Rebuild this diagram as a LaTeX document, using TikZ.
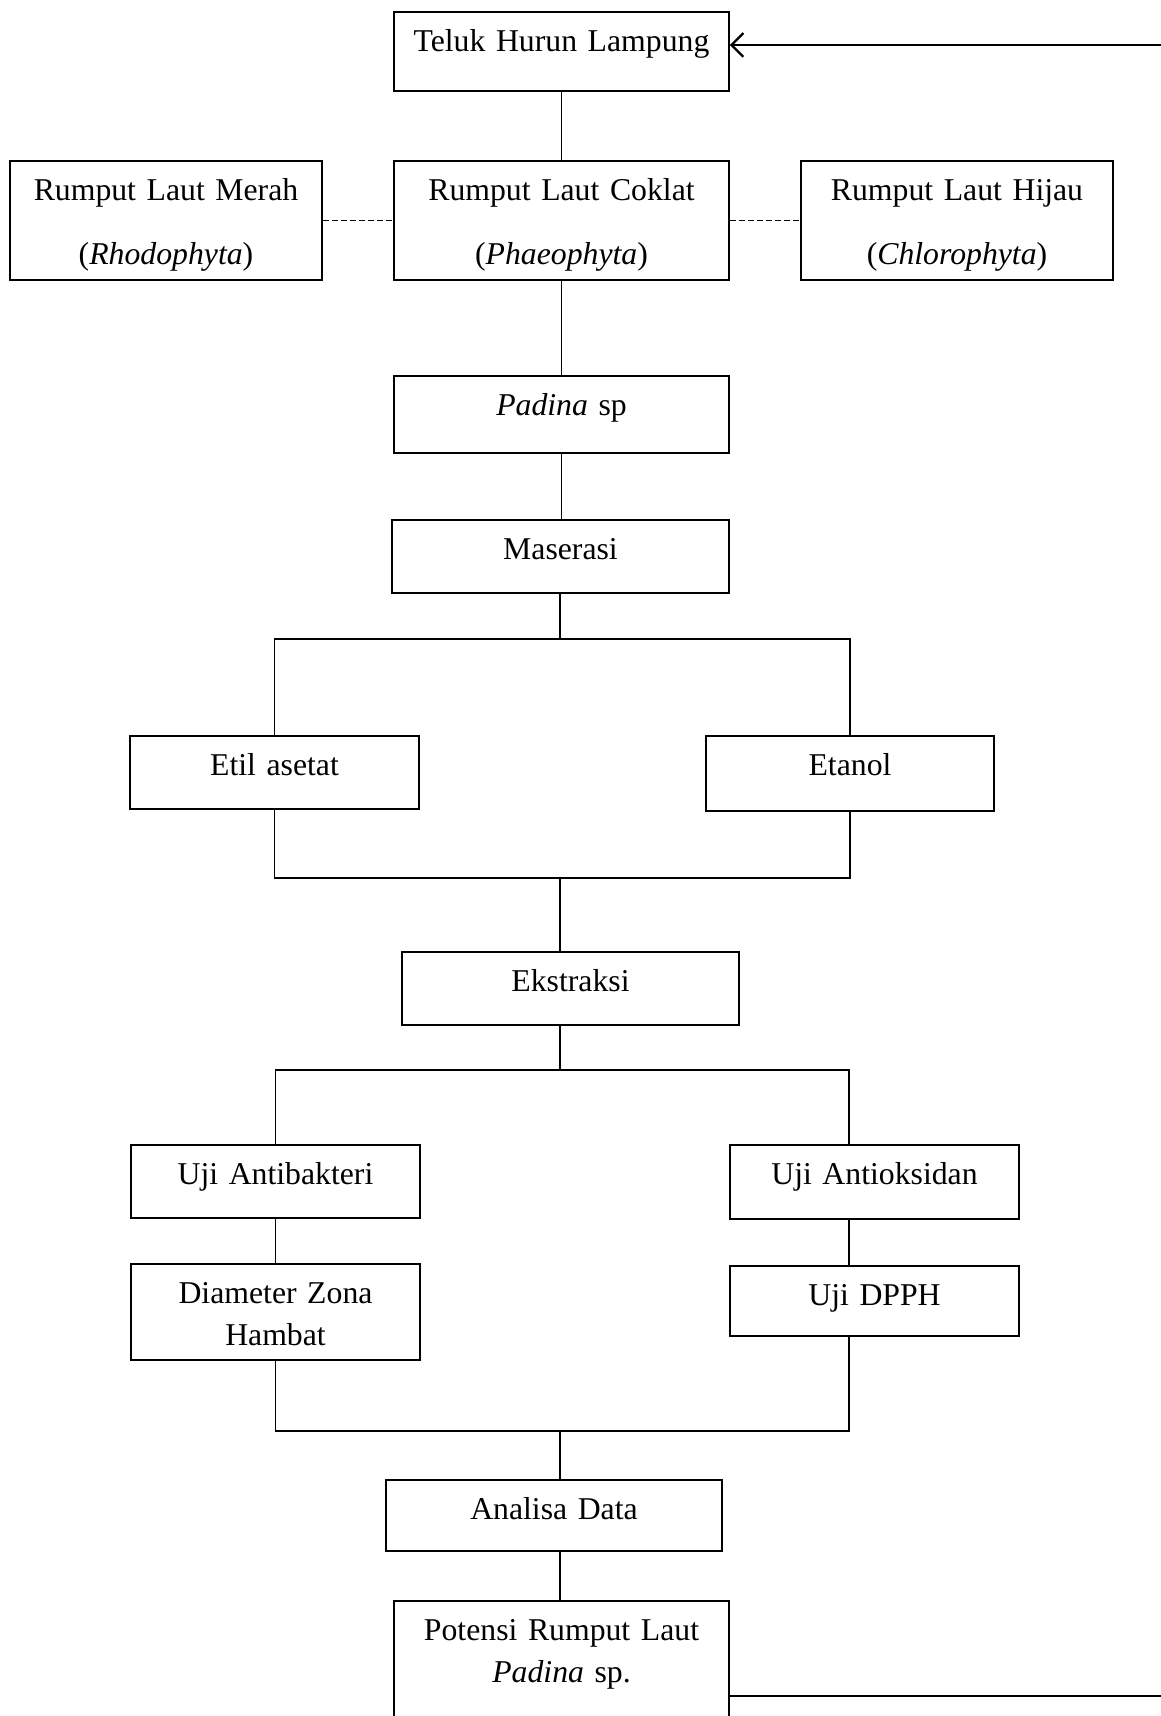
\documentclass[tikz,border=0pt]{standalone}
\usepackage{fontspec}
\setmainfont{Liberation Serif}
\usetikzlibrary{arrows.meta}

\begin{document}
\begin{tikzpicture}[x=0.378pt, y=-0.378pt, line width=0.6pt,
  kotak/.style 2 args={draw, anchor=north, inner sep=0pt, align=center, font=\fontsize{12}{16}\selectfont, text width=#1, text height=15pt, text depth=#2}]
\useasboundingbox (0,0) rectangle (1160,1716);
\node[kotak={126.6pt}{14.9pt}] (teluk) at (561.5,11) {Teluk Hurun Lampung};
\node[kotak={117.9pt}{30pt}] (merah) at (166,160) {Rumput Laut Merah\\[8.2pt](\textit{Rhodophyta})};
\node[kotak={126.6pt}{30pt}] (coklat) at (561.5,160) {Rumput Laut Coklat\\[8.2pt](\textit{Phaeophyta})};
\node[kotak={117.9pt}{30pt}] (hijau) at (957,160) {Rumput Laut Hijau\\[8.2pt](\textit{Chlorophyta})};
\node[kotak={126.6pt}{14.1pt}] (padina) at (561.5,375) {\textit{Padina} sp};
\node[kotak={127.4pt}{12.6pt}] (maserasi) at (560.5,519) {Maserasi};
\node[kotak={109.2pt}{12.6pt}] (etil) at (274.5,735) {Etil asetat};
\node[kotak={108.9pt}{13.4pt}] (etanol) at (850,735) {Etanol};
\node[kotak={127.4pt}{12.6pt}] (ekstraksi) at (570.5,951) {Ekstraksi};
\node[kotak={109.2pt}{12.6pt}] (antibakteri) at (275.5,1144) {Uji Antibakteri};
\node[kotak={109.2pt}{13pt}] (antioksidan) at (874.5,1144) {Uji Antioksidan};
\node[kotak={109.2pt}{21.3pt}] (diameter) at (275.5,1263) {Diameter Zona\\Hambat};
\node[kotak={109.2pt}{11.5pt}] (dpph) at (874.5,1265) {Uji DPPH};
\node[kotak={127pt}{11.8pt}] (analisa) at (554,1479) {Analisa Data};
\node[kotak={126.6pt}{34pt}] (potensi) at (561.5,1600) {Potensi Rumput Laut\\\textit{Padina} sp.};
\coordinate (cabang1) at (560,639);
\coordinate (gabung1) at (560,878);
\coordinate (cabang2) at (560,1070);
\coordinate (gabung2) at (560,1431);
\coordinate (kanan) at (849,0);
\coordinate (balikB) at (1175,1696);
\coordinate (balikA) at (1175,45);
\draw (teluk.south) -- (coklat.north);
\draw[dash pattern=on 2.3pt off 1.1pt] (merah.east) -- (coklat.west);
\draw[dash pattern=on 2.3pt off 1.1pt] (coklat.east) -- (hijau.west);
\draw (coklat.south) -- (padina.north);
\draw (padina.south) -- (padina.south |- maserasi.north);
\draw (maserasi.south -| cabang1) -- (cabang1);
\draw (etil.north) |- (cabang1) -| (etanol.north);
\draw (etil.south) |- (gabung1) -| (etanol.south);
\draw (gabung1) -- (gabung1 |- ekstraksi.north);
\draw (gabung1 |- ekstraksi.south) -- (cabang2);
\draw (antibakteri.north) |- (cabang2) -| (kanan |- antioksidan.north);
\draw (antibakteri.south) -- (diameter.north);
\draw (kanan |- antioksidan.south) -- (kanan |- dpph.north);
\draw (diameter.south) |- (gabung2) -| (kanan |- dpph.south);
\draw (gabung2) -- (gabung2 |- analisa.north);
\draw (gabung2 |- analisa.south) -- (gabung2 |- potensi.north);
\draw[line width=0.9pt, -{Straight Barb[length=4.5pt,width=9pt]}] (potensi.east |- balikB) -- (balikB) -- (balikA) -- (teluk.east |- balikA);
\end{tikzpicture}
\end{document}
